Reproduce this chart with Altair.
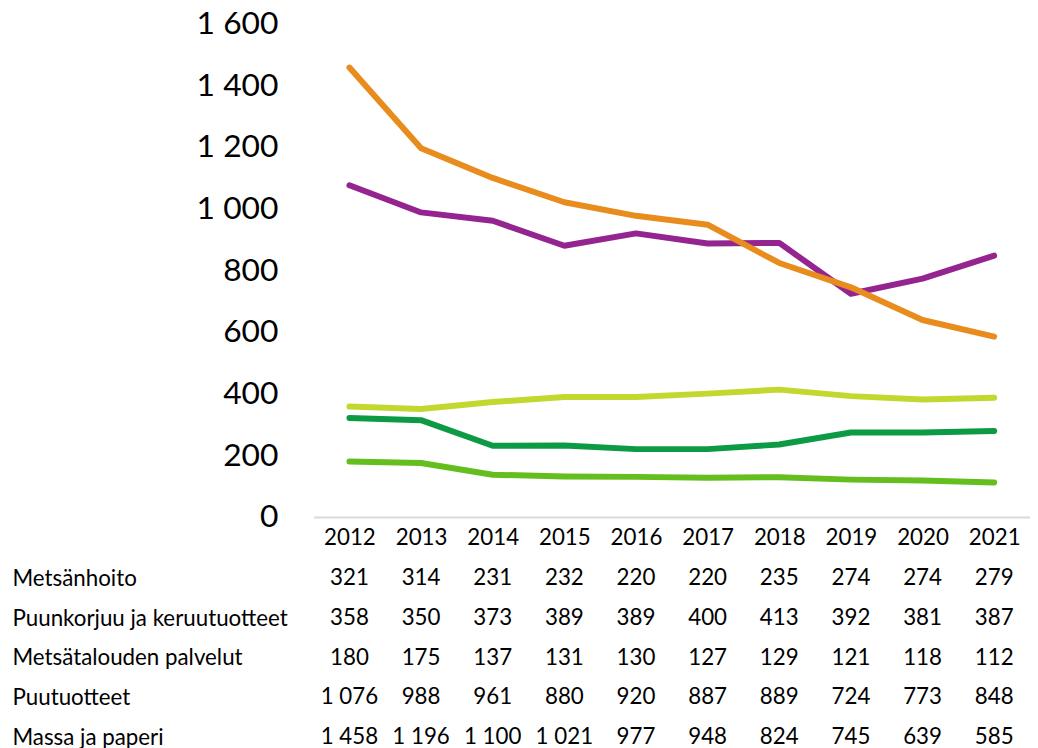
import altair as alt
import pandas as pd

years = ["2012", "2013", "2014", "2015", "2016", "2017", "2018", "2019", "2020", "2021"]
series = ["Metsänhoito", "Puunkorjuu ja keruutuotteet", "Metsätalouden palvelut", "Puutuotteet", "Massa ja paperi"]
metsanhoito = [321, 314, 231, 232, 220, 220, 235, 274, 274, 279]
puunkorjuu = [358, 350, 373, 389, 389, 400, 413, 392, 381, 387]
palvelut = [180, 175, 137, 131, 130, 127, 129, 121, 118, 112]
puutuotteet = [1076, 988, 961, 880, 920, 887, 889, 724, 773, 848]
massa = [1458, 1196, 1100, 1021, 977, 948, 824, 745, 639, 585]
colors = ["#0C9A45", "#C3D82E", "#64BE1E", "#942490", "#E88C1E"]
y_ticks = [0, 200, 400, 600, 800, 1000, 1200, 1400, 1600]

values = [metsanhoito, puunkorjuu, palvelut, puutuotteet, massa]
rows = []
for s, vals in zip(series, values):
    for y, v in zip(years, vals):
        rows.append({"series": s, "year": y, "value": v,
                     "label": f"{v:,}".replace(",", " ")})
df = pd.DataFrame(rows)

FONT = "Lato"
W = 722
TS = 22.5

color = alt.Color("series:N", scale=alt.Scale(domain=series, range=colors), legend=None)

lines = alt.Chart(df).mark_line(strokeWidth=6, strokeCap="round", strokeJoin="round").encode(
    x=alt.X("year:O", sort=years, scale=alt.Scale(type="point", padding=0.5),
            axis=alt.Axis(title=None, labelAngle=0, ticks=False, domainColor="#d9d9d9",
                          domainWidth=2, labelFontSize=TS, labelPadding=10, labelColor="#000",
                          labelFont=FONT)),
    y=alt.Y("value:Q", scale=alt.Scale(domain=[0, 1600]),
            axis=alt.Axis(title=None, values=y_ticks, grid=False, domain=False, ticks=False,
                          labelFontSize=32, labelPadding=36, labelColor="#000", labelFont=FONT,
                          labelExpr="replace(format(datum.value, ','), ',', ' ')")),
    color=color,
    detail="series:N",
).properties(width=W, height=497)

table = alt.Chart(df).mark_text(fontSize=TS, font=FONT, color="#000").encode(
    x=alt.X("year:O", sort=years, scale=alt.Scale(type="band", paddingInner=0, paddingOuter=0), axis=None),
    y=alt.Y("series:N", sort=series, scale=alt.Scale(type="point", padding=0.1),
            axis=alt.Axis(title=None, orient="left", labelAlign="left", labelPadding=304,
                          ticks=False, domain=False, labelFontSize=TS, labelColor="#000",
                          labelFont=FONT, labelLimit=0)),
    text="label:N",
).properties(width=W, height=168)

chart = alt.vconcat(lines, table, spacing=18).properties(
    padding={"top": -3, "left": 4, "right": 0, "bottom": 0}
).resolve_scale(x="independent").configure_view(stroke=None)

chart.save("out.html", embed_options={"renderer": "svg", "actions": False})
